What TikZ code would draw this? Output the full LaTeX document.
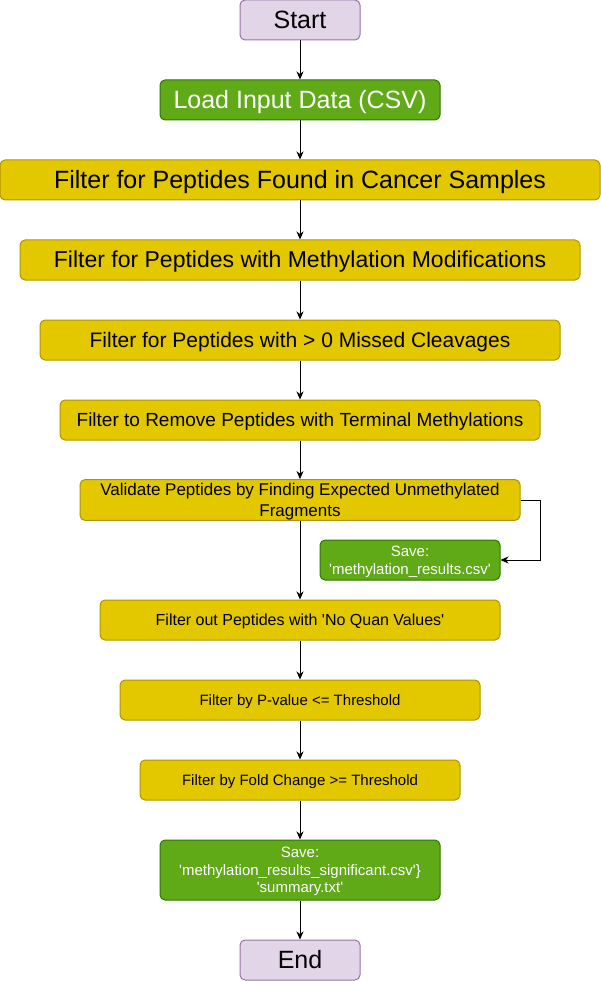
\documentclass[tikz,border=0pt]{standalone}
\usepackage{fontspec}
\setmainfont{Liberation Sans}[Ligatures=TeXOff]
\usetikzlibrary{positioning, arrows.meta, shapes}
\definecolor{termfill}{HTML}{E1D5E7}
\definecolor{termdraw}{HTML}{9673A6}
\definecolor{savefill}{HTML}{60A917}
\definecolor{savedraw}{HTML}{2D7600}
\definecolor{filterfill}{HTML}{E3C800}
\definecolor{filterdraw}{HTML}{B09500}
\newcommand{\sline}{\rule[-0.2535em]{0pt}{1.2em}}
\tikzstyle{textstrut} = [execute at begin node={\sline}]
\tikzstyle{terminal} = [rectangle, rounded corners=5pt, minimum width=120pt, minimum height=40pt, text centered, inner sep=0pt, line width=1pt, draw=termdraw, fill=termfill, font=\fontsize{25}{30}\selectfont, textstrut]
\tikzstyle{save} = [rectangle, rounded corners=5pt, minimum height=40pt, align=center, inner sep=0pt, line width=1pt, draw=savedraw, fill=savefill, text=white]
\tikzstyle{filter} = [rectangle, rounded corners=5pt, minimum height=40pt, align=center, inner sep=0pt, line width=1pt, draw=filterdraw, fill=filterfill]
\tikzstyle{arrow} = [line width=1pt, -{Stealth[length=8pt,width=7pt,inset=2.5pt]}]

\begin{document}
\begin{tikzpicture}[x=1pt, y=-1pt, node distance=80pt]
    \useasboundingbox (0,0) rectangle (601,981);
    \node (start) [terminal] at (300,20) {Start};
    \node (load) [save, textstrut, below of=start, minimum width=280pt, font=\fontsize{25}{30}\selectfont] {Load Input Data (CSV)};
    \node (cancer) [filter, textstrut, below of=load, minimum width=600pt, font=\fontsize{25}{30}\selectfont] {Filter for Peptides Found in Cancer Samples};
    \node (methyl) [filter, textstrut, below of=cancer, minimum width=560pt, font=\fontsize{23}{27.6}\selectfont] {Filter for Peptides with Methylation Modifications};
    \node (missed) [filter, textstrut, below of=methyl, minimum width=520pt, font=\fontsize{21}{25.2}\selectfont] {Filter for Peptides with > 0 Missed Cleavages};
    \node (terminalmeth) [filter, textstrut, below of=missed, minimum width=480pt, font=\fontsize{19}{22.8}\selectfont] {Filter to Remove Peptides with Terminal Methylations};
    \node (validate) [filter, below of=terminalmeth, minimum width=440pt, font=\fontsize{17}{20.4}\selectfont] {\sline Validate Peptides by Finding Expected Unmethylated\\\sline Fragments};
    \node (saveresults) [save, below of=validate, xshift=110pt, yshift=20pt, minimum width=180pt, font=\fontsize{15}{18}\selectfont] {\sline Save:\\\sline'methylation\_results.csv'};
    \node (noquan) [filter, textstrut, below of=validate, yshift=-40pt, minimum width=400pt, font=\fontsize{16}{19.2}\selectfont] {Filter out Peptides with 'No Quan Values'};
    \node (pvalue) [filter, textstrut, below of=noquan, minimum width=360pt, font=\fontsize{15}{18}\selectfont] {Filter by P-value <= Threshold};
    \node (foldchange) [filter, textstrut, below of=pvalue, minimum width=320pt, font=\fontsize{15}{18}\selectfont] {Filter by Fold Change >= Threshold};
    \node (savesig) [save, below of=foldchange, yshift=-10pt, minimum width=280pt, minimum height=60pt, font=\fontsize{15}{17.5}\selectfont] {\sline Save:\\'methylation\_results\_significant.csv'\}\\\sline'summary.txt'};
    \node (end) [terminal, below of=savesig, yshift=-10pt] {End};

    \draw [arrow] (start) -- (load);
    \draw [arrow] (load) -- (cancer);
    \draw [arrow] (cancer) -- (methyl);
    \draw [arrow] (methyl) -- (missed);
    \draw [arrow] (missed) -- (terminalmeth);
    \draw [arrow] (terminalmeth) -- (validate);
    \draw [arrow] (validate.east) -- ++(20pt,0pt) |- (saveresults.east);
    \draw [arrow] (validate) -- (noquan);
    \draw [arrow] (noquan) -- (pvalue);
    \draw [arrow] (pvalue) -- (foldchange);
    \draw [arrow] (foldchange) -- (savesig);
    \draw [arrow] (savesig) -- (end);
\end{tikzpicture}
\end{document}
